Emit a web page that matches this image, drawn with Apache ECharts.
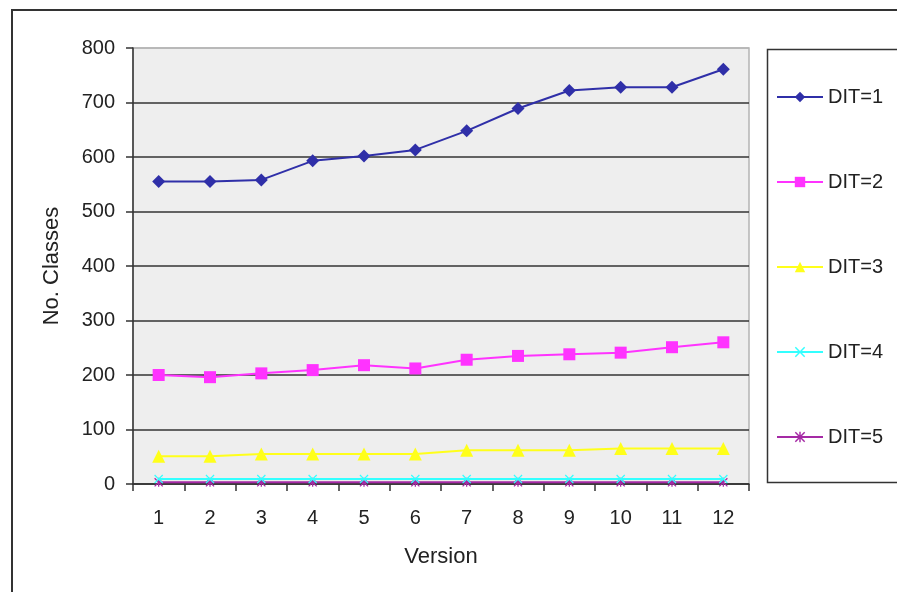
<!DOCTYPE html>
<html>
<head>
<meta charset="utf-8">
<style>
  html, body { margin: 0; padding: 0; background: #ffffff; }
  #chart { width: 897px; height: 592px; }
</style>
<script src="https://cdn.jsdelivr.net/npm/echarts@6/dist/echarts.min.js"></script>
</head>
<body>
<div id="chart"></div>
<script>
// Versions on the x axis
const versions = ['1', '2', '3', '4', '5', '6', '7', '8', '9', '10', '11', '12'];

// Number of classes at each depth of inheritance tree (DIT), per version
const dit1 = [555, 555, 558, 593, 602, 613, 648, 689, 722, 728, 728, 761];
const dit2 = [200, 196, 203, 209, 218, 212, 228, 235, 238, 241, 251, 260];
const dit3 = [51, 51, 55, 55, 55, 55, 62, 62, 62, 65, 65, 65];
const dit4 = [9, 9, 9, 9, 9, 9, 9, 9, 9, 9, 9, 9];
const dit5 = [3, 3, 3, 3, 3, 3, 3, 3, 3, 3, 3, 3];

const seriesNames = ['DIT=1', 'DIT=2', 'DIT=3', 'DIT=4', 'DIT=5'];
const yTicks = { min: 0, max: 800, step: 100 };

// marker shapes
const crossPath = 'path://M0,1 L1,0 L5,4 L9,0 L10,1 L6,5 L10,9 L9,10 L5,6 L1,10 L0,9 L4,5 Z';
const starPath = 'path://M0,1 L1,0 L5,4 L9,0 L10,1 L6,5 L10,9 L9,10 L5,6 L1,10 L0,9 L4,5 Z M4.3,0 L5.7,0 L5.7,10 L4.3,10 Z';

const styles = [
  { color: '#2f2fa8', symbol: 'diamond', size: 13 },
  { color: '#ff33ff', symbol: 'rect', size: 12 },
  { color: '#ffff1a', symbol: 'triangle', size: 13 },
  { color: '#33ffff', symbol: crossPath, size: 9 },
  { color: '#a52aa5', symbol: starPath, size: 9 }
];
const allData = [dit1, dit2, dit3, dit4, dit5];

const chart = echarts.init(document.getElementById('chart'), null, { renderer: 'canvas' });

const font = 'Liberation Sans, Arial, sans-serif';
const gridLineColors = [];
for (let v = yTicks.min; v <= yTicks.max; v += yTicks.step) {
  gridLineColors.push(v === yTicks.max ? '#b4b4b4' : '#333333');
}

const option = {
  animation: false,
  backgroundColor: '#ffffff',
  textStyle: { fontFamily: font },
  graphic: [
    {
      type: 'rect',
      shape: { x: 12, y: 10, width: 1000, height: 700 },
      style: { fill: 'none', stroke: '#333333', lineWidth: 2 },
      silent: true
    },
    {
      type: 'rect',
      shape: { x: 767.5, y: 49.5, width: 200, height: 433 },
      style: { fill: '#ffffff', stroke: '#333333', lineWidth: 1.5 },
      silent: true,
      z: 0
    }
  ],
  grid: {
    left: 133, top: 48, right: 148, bottom: 108,
    show: true,
    backgroundColor: '#eeeeee',
    borderColor: '#b4b4b4',
    borderWidth: 1.5
  },
  legend: {
    orient: 'vertical',
    left: 771,
    top: 82,
    itemWidth: 46,
    itemHeight: 13,
    itemGap: 65,
    data: seriesNames,
    textStyle: { fontSize: 20, color: '#222222', fontFamily: font },
    z: 10
  },
  xAxis: {
    type: 'category',
    data: versions,
    boundaryGap: true,
    name: 'Version',
    nameLocation: 'middle',
    nameGap: 62,
    nameTextStyle: { fontSize: 22, color: '#222222', fontFamily: font },
    axisLine: { show: true, lineStyle: { color: '#333333', width: 1.5 } },
    axisTick: { show: true, length: 7, alignWithLabel: false, lineStyle: { color: '#333333', width: 1.5 } },
    axisLabel: { fontSize: 20, color: '#222222', margin: 24, fontFamily: font },
    splitLine: { show: false }
  },
  yAxis: {
    type: 'value',
    min: yTicks.min,
    max: yTicks.max,
    interval: yTicks.step,
    name: 'No. Classes',
    nameLocation: 'middle',
    nameGap: 70,
    nameTextStyle: { fontSize: 22, color: '#222222', fontFamily: font },
    axisLine: { show: true, lineStyle: { color: '#333333', width: 1.5 } },
    axisTick: { show: true, length: 7, lineStyle: { color: '#333333', width: 1.5 } },
    axisLabel: { fontSize: 20, color: '#222222', margin: 18, fontFamily: font },
    splitLine: { show: true, lineStyle: { color: gridLineColors, width: 1.5 } }
  },
  series: seriesNames.map((name, i) => ({
    name: name,
    type: 'line',
    data: allData[i],
    symbol: styles[i].symbol,
    symbolSize: styles[i].size,
    showSymbol: true,
    lineStyle: { color: styles[i].color, width: 2 },
    itemStyle: { color: styles[i].color, borderWidth: 0 },
    z: 5 - i
  }))
};

chart.setOption(option);
</script>
</body>
</html>
